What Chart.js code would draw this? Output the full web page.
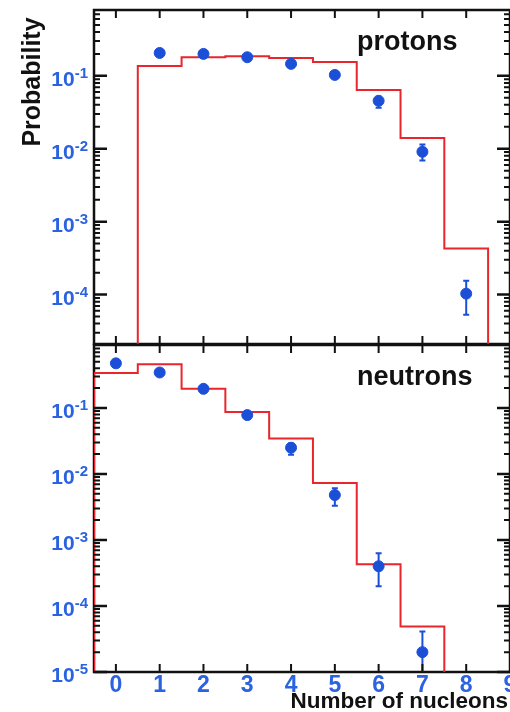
<!DOCTYPE html>
<html>
<head>
<meta charset="utf-8">
<script src="https://cdn.jsdelivr.net/npm/chart.js@4.4.0/dist/chart.umd.min.js"></script>
<style>
  body { margin: 0; background: #fff; }
  #wrap { position: relative; width: 510px; height: 712px; overflow: hidden; background: #fff; }
  canvas { position: absolute; left: 0; }
  #topChart { top: 0; }
  #bottomChart { top: 334px; }
</style>
</head>
<body>
<div id="wrap">
  <canvas id="topChart" width="510" height="356"></canvas>
  <canvas id="bottomChart" width="510" height="378"></canvas>
</div>
<script>
// Data

// protons: measured points
let protonN = [1, 2, 3, 4, 5, 6, 7, 8];
let protonProb = [0.206, 0.2, 0.18, 0.146, 0.103, 0.0455, 0.0091, 1.03e-4];
let protonErrLow = [null, null, null, null, null, 0.0365, 0.0069, 5.3e-5];
let protonErrHigh = [null, null, null, null, null, 0.0515, 0.0114, 1.55e-4];
// protons: model histogram, bin n spans n-0.5 .. n+0.5
let protonModel = [0, 0.137, 0.18, 0.186, 0.176, 0.155, 0.064, 0.014, 4.3e-4];

// neutrons: measured points
let neutronN = [0, 1, 2, 3, 4, 5, 6, 7];
let neutronProb = [0.475, 0.345, 0.195, 0.078, 0.025, 0.0048, 4.0e-4, 2.0e-5];
let neutronErrLow = [null, null, null, null, 0.0196, 0.0033, 2.0e-4, 5e-6];
let neutronErrHigh = [null, null, null, null, 0.029, 0.0061, 6.3e-4, 4.1e-5];
// neutrons: model histogram
let neutronModel = [0.34, 0.46, 0.195, 0.087, 0.0346, 0.0073, 4.3e-4, 4.9e-5];

let xTicks = [0, 1, 2, 3, 4, 5, 6, 7, 8, 9];
let topDecades = [-1, -2, -3, -4];
let bottomDecades = [-1, -2, -3, -4, -5];

let histFloor = 1e-9;   // below the axis, the line drops off the panel
let blue = '#1c4fd8';
let labelBlue = '#2a62e0';
let red = '#e8262b';
let ink = '#111';
let font = "'Liberation Sans', Arial, sans-serif";

function histPoints(model) {
  let pts = [];
  let first = model.findIndex(v => v > 0);
  pts.push({x: first - 0.5, y: histFloor});
  for (let i = first; i < model.length; i++) {
    pts.push({x: i - 0.5, y: model[i]});
  }
  pts.push({x: model.length - 0.5, y: histFloor});
  return pts;
}

function pointData(ns, probs) {
  return ns.map((n, i) => ({x: n, y: probs[i]}));
}

// frame goes under the datasets so the red line sits on the axis
let framePlugin = {
  id: 'frame',
  beforeDatasetsDraw(chart) {
    let a = chart.chartArea;
    let ctx = chart.ctx;
    ctx.save();
    ctx.strokeStyle = ink;
    ctx.lineWidth = 2.5;
    ctx.strokeRect(a.left, a.top, a.right - a.left, a.bottom - a.top);
    ctx.restore();
  }
};

let decorPlugin = {
  id: 'decor',
  afterDatasetsDraw(chart, args, opts) {
    let ctx = chart.ctx;
    let a = chart.chartArea;
    let xs = chart.scales.x;
    let ys = chart.scales.y;

    // error bars
    ctx.save();
    ctx.beginPath();
    ctx.rect(a.left, a.top, a.right - a.left, a.bottom - a.top);
    ctx.clip();
    ctx.strokeStyle = blue;
    ctx.lineWidth = 2;
    opts.xs.forEach((n, i) => {
      if (opts.lo[i] == null) return;
      let px = xs.getPixelForValue(n);
      let y1 = ys.getPixelForValue(opts.lo[i]);
      let y2 = ys.getPixelForValue(opts.hi[i]);
      ctx.beginPath();
      ctx.moveTo(px, y1); ctx.lineTo(px, y2);
      ctx.moveTo(px - 3, y1); ctx.lineTo(px + 3, y1);
      ctx.moveTo(px - 3, y2); ctx.lineTo(px + 3, y2);
      ctx.stroke();
    });
    ctx.restore();
  },
  afterDraw(chart, args, opts) {
    let ctx = chart.ctx;
    let a = chart.chartArea;
    let xs = chart.scales.x;
    let ys = chart.scales.y;
    ctx.save();
    ctx.strokeStyle = ink;
    ctx.lineWidth = 2;

    // x ticks, inward on top and bottom
    xTicks.forEach(n => {
      let px = xs.getPixelForValue(n);
      ctx.beginPath();
      ctx.moveTo(px, a.bottom); ctx.lineTo(px, a.bottom - 8);
      ctx.moveTo(px, a.top); ctx.lineTo(px, a.top + 8);
      ctx.stroke();
    });

    // log ticks on left and right
    for (let k = -6; k <= 0; k++) {
      for (let m = 1; m <= 9; m++) {
        let v = m * Math.pow(10, k);
        if (v < ys.min || v > ys.max) continue;
        let py = ys.getPixelForValue(v);
        let len = m === 1 ? 13 : 6;
        ctx.lineWidth = m === 1 ? 2.5 : 2;
        ctx.beginPath();
        ctx.moveTo(a.left, py); ctx.lineTo(a.left + len, py);
        ctx.moveTo(a.right, py); ctx.lineTo(a.right - len, py);
        ctx.stroke();
      }
    }

    // y labels 10^k
    ctx.fillStyle = labelBlue;
    opts.decades.forEach(k => {
      let py = ys.getPixelForValue(Math.pow(10, k));
      let sup = '-' + Math.abs(k);
      ctx.font = 'bold 15px ' + font;
      let supW = ctx.measureText(sup).width;
      let right = a.left - 6;
      ctx.textAlign = 'left';
      ctx.textBaseline = 'alphabetic';
      ctx.fillText(sup, right - supW, py + 2);
      ctx.font = 'bold 21px ' + font;
      ctx.textAlign = 'right';
      ctx.fillText('10', right - supW, py + 10);
    });

    // x labels only under the lower panel
    if (opts.xLabels) {
      ctx.font = 'bold 23px ' + font;
      ctx.textAlign = 'center';
      xTicks.forEach(n => {
        ctx.fillText(String(n), xs.getPixelForValue(n), a.bottom + 20);
      });
      ctx.fillStyle = ink;
      ctx.font = 'bold 22.5px ' + font;
      ctx.textAlign = 'right';
      ctx.fillText('Number of nucleons', 508, a.bottom + 36);
    }

    // panel name
    ctx.fillStyle = ink;
    ctx.font = 'bold 27px ' + font;
    ctx.textAlign = 'left';
    ctx.fillText(opts.name, 357, opts.nameY);

    if (opts.yTitle) {
      ctx.save();
      ctx.translate(40, 82);
      ctx.rotate(-Math.PI / 2);
      ctx.font = 'bold 25px ' + font;
      ctx.textAlign = 'center';
      ctx.fillText('Probability', 0, 0);
      ctx.restore();
    }
    ctx.restore();
  }
};

function makeChart(id, points, model, yMin, yMax, decor, pad) {
  let ctx = document.getElementById(id).getContext('2d');
  return new Chart(ctx, {
    type: 'scatter',
    data: {
      datasets: [{
        label: 'data',
        data: points,
        backgroundColor: blue,
        borderColor: blue,
        pointRadius: 5.5,
        pointHoverRadius: 5.5,
        order: 0
      }, {
        type: 'line',
        label: 'model',
        data: histPoints(model),
        // chart.js 'before' = run flat to the next edge, then step
        stepped: 'before',
        borderColor: red,
        borderWidth: 2,
        pointRadius: 0,
        fill: false,
        order: 1
      }]
    },
    options: {
      responsive: false,
      animation: false,
      layout: { padding: pad, autoPadding: false },
      plugins: {
        legend: { display: false },
        tooltip: { enabled: false },
        decor: decor
      },
      scales: {
        x: { type: 'linear', min: -0.5, max: 9, display: false },
        y: { type: 'logarithmic', min: yMin, max: yMax, display: false }
      }
    },
    plugins: [framePlugin, decorPlugin]
  });
}

makeChart('topChart', pointData(protonN, protonProb), protonModel, 2.1e-5, 0.8,
  { xs: protonN, lo: protonErrLow, hi: protonErrHigh, decades: topDecades,
    name: 'protons', nameY: 50, yTitle: true, xLabels: false },
  { left: 94, right: 0, top: 10, bottom: 12 });

makeChart('bottomChart', pointData(neutronN, neutronProb), neutronModel, 1e-5, 0.9,
  { xs: neutronN, lo: neutronErrLow, hi: neutronErrHigh, decades: bottomDecades,
    name: 'neutrons', nameY: 51, yTitle: false, xLabels: true },
  { left: 94, right: 0, top: 11, bottom: 40 });
</script>
</body>
</html>
